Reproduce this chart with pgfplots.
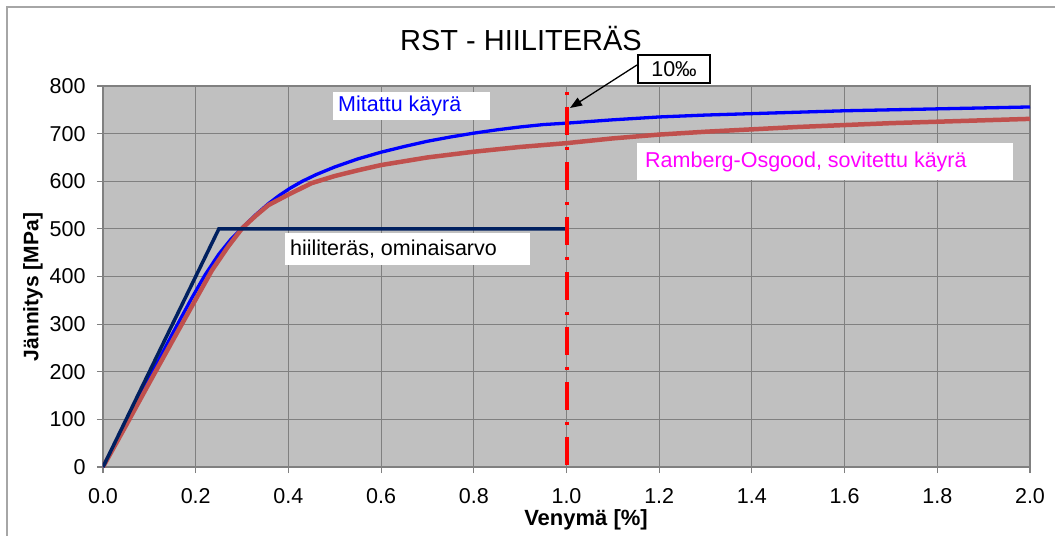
\documentclass[border=0pt]{standalone}
\usepackage{fontspec}
\setmainfont{Liberation Sans}
\usepackage{pgfplots}
\pgfplotsset{compat=1.18}
\usetikzlibrary{arrows.meta}
\definecolor{plotbg}{HTML}{C0C0C0}
\definecolor{gridc}{HTML}{808080}
\definecolor{navy}{HTML}{002060}
\definecolor{rored}{HTML}{C0504D}
\definecolor{measblue}{HTML}{0000FF}
\definecolor{pinkm}{HTML}{FF00FF}
\definecolor{vred}{HTML}{FF0000}
\definecolor{frame}{HTML}{A6A6A6}
\begin{document}
\begin{tikzpicture}
\useasboundingbox (-103pt,-69pt) rectangle (952pt,467pt);
\draw[frame, line width=1.2pt] (-96pt,-69pt) -- (-96pt,460pt) -- (952pt,460pt);
\begin{axis}[
  width=927pt, height=381pt, scale only axis,
  xmin=0, xmax=2, ymin=0, ymax=800,
  xtick={0,0.2,0.4,0.6,0.8,1.0,1.2,1.4,1.6,1.8,2.0},
  ytick={0,100,200,300,400,500,600,700,800},
  grid=major,
  major grid style={draw=gridc, line width=1.1pt},
  axis background/.style={fill=plotbg},
  axis line style={draw=gridc, line width=1.1pt},
  tick style={draw=gridc, line width=1.1pt},
  tick align=outside, major tick length=6pt,
  tick pos=left,
  /pgf/number format/assume math mode=true,
  xticklabel style={font=\fontsize{21.5}{25}\selectfont, yshift=-12pt, /pgf/number format/fixed, /pgf/number format/fixed zerofill, /pgf/number format/precision=1},
  yticklabel style={font=\fontsize{21.5}{25}\selectfont, xshift=-8pt},
]
\addplot[measblue, line width=3.3pt] coordinates {
(0,0) (0.05,94) (0.1,187) (0.15,280) (0.19,352) (0.22,403) (0.25,447) (0.275,477)
(0.3,502) (0.33,530) (0.357,553) (0.38,570) (0.403,585) (0.43,600) (0.46,614)
(0.5,630) (0.55,647) (0.6,661) (0.65,673) (0.7,684) (0.75,693) (0.8,701)
(0.85,708) (0.9,714) (0.95,719) (1.0,722) (1.1,729) (1.2,735) (1.3,739)
(1.4,742) (1.5,745) (1.6,748) (1.7,750) (1.8,752) (1.9,754) (2.0,756)
};
\addplot[rored, line width=4.5pt] coordinates {
(0,0) (0.05,88) (0.1,177) (0.15,265) (0.2,352) (0.235,413) (0.27,463) (0.3,501)
(0.33,528) (0.357,550) (0.4,572) (0.45,596) (0.5,611) (0.55,623) (0.6,634)
(0.7,650) (0.8,662) (0.9,672) (1.0,680) (1.1,690) (1.2,698) (1.3,704)
(1.4,709) (1.5,714) (1.6,718) (1.7,722) (1.8,725) (1.9,728) (2.0,731)
};
\addplot[navy, line width=3.5pt] coordinates {(0,0) (0.25,500) (1.0,500)};
\addplot[vred, line width=4pt, dash pattern=on 3pt off 12pt on 28pt off 12pt] coordinates {(1.0,787) (1.0,0)};
\end{axis}
% title and axis labels
\node[font=\fontsize{29}{34}\selectfont] at (418pt,428pt) {RST - HIILITERÄS};
\node[font=\fontsize{21}{25}\selectfont\bfseries, rotate=90] at (-70pt,180pt) {Jännitys [MPa]};
\node[font=\fontsize{22}{26}\selectfont\bfseries] at (483pt,-53pt) {Venymä [\%]};
% annotation boxes
\fill[white] (230pt,347pt) rectangle (387pt,375pt);
\node[anchor=west, measblue, font=\fontsize{21.5}{25}\selectfont, inner sep=0pt] at (235pt,361pt) {Mitattu käyrä};
\fill[white] (534pt,287pt) rectangle (910pt,324pt);
\node[anchor=west, pinkm, font=\fontsize{21.5}{25}\selectfont, inner sep=0pt] at (542pt,305.5pt) {Ramberg-Osgood, sovitettu käyrä};
\fill[white] (182pt,202pt) rectangle (427pt,234pt);
\node[anchor=west, black, font=\fontsize{21.5}{25}\selectfont, inner sep=0pt] at (187pt,218pt) {hiiliteräs, ominaisarvo};
\draw[black, line width=1.2pt, fill=white] (535pt,384pt) rectangle (607pt,412pt);
\node[black, font=\fontsize{21.5}{25}\selectfont, inner sep=0pt] at (571pt,398pt) {10‰};
\draw[black, line width=1.3pt, -{Triangle[length=12pt, width=9pt]}] (534pt,402pt) -- (467pt,359pt);
\end{tikzpicture}
\end{document}
